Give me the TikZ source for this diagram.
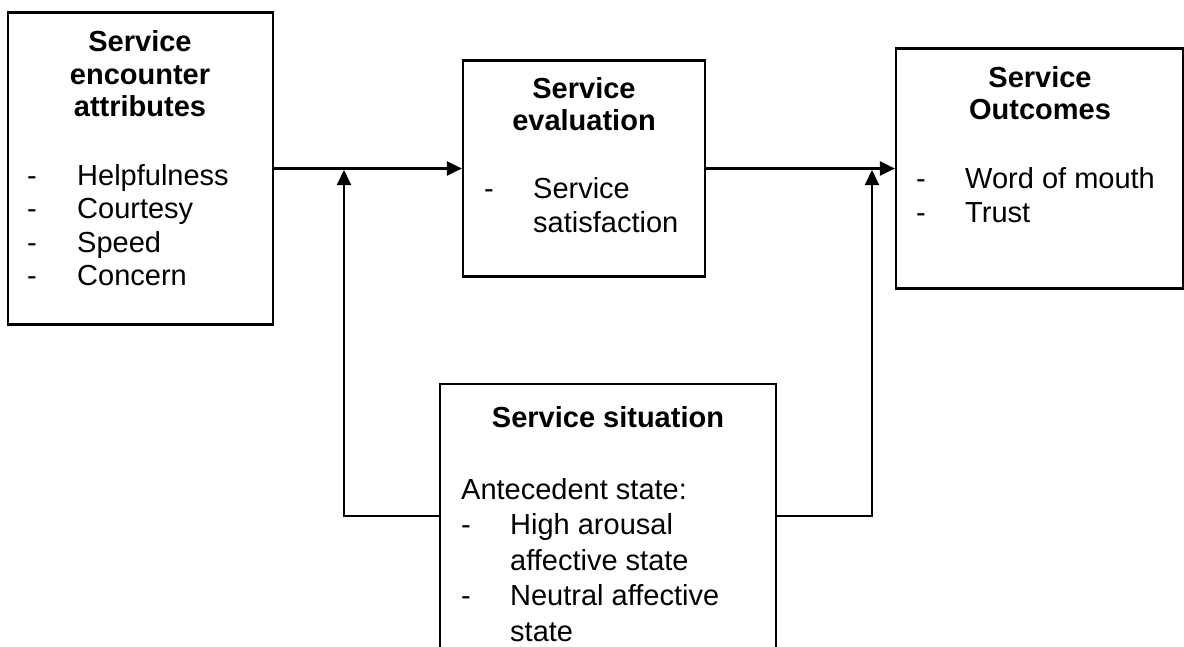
\documentclass[tikz,border=0pt]{standalone}
\usepackage{fontspec}
\setmainfont{Liberation Sans}
\usetikzlibrary{arrows.meta}
\begin{document}
\begin{tikzpicture}[x=1pt,y=-1pt,
  box/.style={draw,line width=2.2pt,inner sep=0pt},
  head/.style={inner sep=0pt,anchor=base,font=\fontsize{29}{#1}\selectfont\bfseries},
  head/.default=32.5,
  items/.style={inner sep=0pt,anchor=base west,font=\fontsize{29}{#1}\selectfont},
  arr/.style={line width=2.2pt,-{Triangle[length=15pt,width=14pt]}}]
\useasboundingbox (0,0) rectangle (1184,646);
\clip (0,0) rectangle (1184,646);
% boxes
\node[box,minimum width=265pt,minimum height=312pt] (A) at (140.5,168.5) {};
\node[box,minimum width=242pt,minimum height=216pt] (B) at (584,168.5) {};
\node[box,minimum width=287pt,minimum height=240pt] (C) at (1039.5,168.5) {};
\node[box,minimum width=336pt,minimum height=264pt] (D) at (608,516) {};
% texts
\node[head] (At) at (140,51.5) {\begin{tabular}[t]{@{}c@{}}Service\\encounter\\attributes\end{tabular}};
\node[items=33.5] (Ai) at (27,185) {\begin{tabular}[t]{@{}l@{}}\makebox[50pt][l]{-}Helpfulness\\\makebox[50pt][l]{-}Courtesy\\\makebox[50pt][l]{-}Speed\\\makebox[50pt][l]{-}Concern\end{tabular}};
\node[head] (Bt) at (584,98) {\begin{tabular}[t]{@{}c@{}}Service\\evaluation\end{tabular}};
\node[items=34.5] (Bi) at (484,198) {\begin{tabular}[t]{@{}l@{}}\makebox[49pt][l]{-}Service\\\hspace*{49pt}satisfaction\end{tabular}};
\node[head] (Ct) at (1040,87) {\begin{tabular}[t]{@{}c@{}}Service\\Outcomes\end{tabular}};
\node[items=34] (Ci) at (916,188) {\begin{tabular}[t]{@{}l@{}}\makebox[49pt][l]{-}Word of mouth\\\makebox[49pt][l]{-}Trust\end{tabular}};
\node[head] (Dt) at (608,427) {Service situation};
\node[items=35.5] (Di) at (461,499) {\begin{tabular}[t]{@{}l@{}}Antecedent state:\\\makebox[49pt][l]{-}High arousal\\\hspace*{49pt}affective state\\\makebox[49pt][l]{-}Neutral affective\\\hspace*{49pt}state\end{tabular}};
% connectors
\coordinate (j1) at (344,170);
\coordinate (j2) at (872,170);
\draw[arr] (A.east) -- (B.west);
\draw[arr] (B.east) -- (C.west);
\draw[arr] (D.west) -| (j1);
\draw[arr] (D.east) -| (j2);
\end{tikzpicture}
\end{document}
